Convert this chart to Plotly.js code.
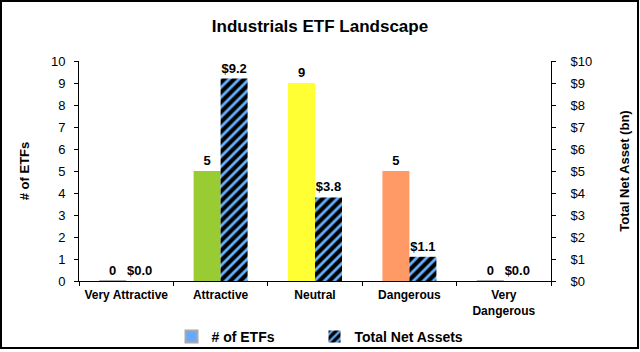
<!DOCTYPE html>
<html>
<head>
<meta charset="utf-8">
<script src="https://cdn.plot.ly/plotly-3.0.1.min.js"></script>
<style>
html,body{margin:0;padding:0;background:#fff;}
#wrap{position:relative;width:640px;height:352px;}
#chart{position:absolute;left:0;top:0;width:640px;height:352px;}
#frame{position:absolute;left:0;top:0;width:639px;height:349px;border:2px solid #000;box-sizing:border-box;pointer-events:none;}
</style>
</head>
<body>
<div id="wrap"><div id="chart"></div><div id="frame"></div></div>
<script>
const categories = ['Very Attractive', 'Attractive', 'Neutral', 'Dangerous', 'Very<br>Dangerous'];
const numEtfs = [0, 5, 9, 5, 0];
const totalNetAssets = [0.0, 9.2, 3.8, 1.1, 0.0];
const etfColors = ['#66aaff', '#99cc33', '#ffff33', '#ff9966', '#66aaff'];
const leftTicks = [0,1,2,3,4,5,6,7,8,9,10];
const rightTickLabels = ['$0','$1','$2','$3','$4','$5','$6','$7','$8','$9','$10'];
const seriesNames = ['# of ETFs', 'Total Net Assets'];

const F = 'Liberation Sans, Arial, sans-serif';
const pad = '\u00a0'.repeat(9);

const traces = [
  {
    type: 'bar', name: seriesNames[0] + pad, x: categories, y: numEtfs,
    xaxis: 'x', yaxis: 'y',
    width: 0.286, offset: -0.286,
    marker: {
      color: etfColors,
      line: {color: '#aaaaaa', width: numEtfs.map(v => v === 0 ? 2 : 0)}
    },
    text: numEtfs.map(v => String(v)),
    textposition: 'outside', cliponaxis: false,
    textfont: {family: F, size: 13, color: '#000', weight: 'bold'},
    hoverinfo: 'skip'
  },
  {
    type: 'bar', name: seriesNames[1], x: categories, y: totalNetAssets,
    xaxis: 'x', yaxis: 'y2',
    width: 0.286, offset: 0,
    marker: {
      color: '#000000',
      pattern: {shape: '/', bgcolor: '#000000', fgcolor: '#66b3ff', size: 7, solidity: 0.4},
      line: {width: 0}
    },
    text: totalNetAssets.map(v => '$' + v.toFixed(1)),
    textposition: 'outside', cliponaxis: false,
    textfont: {family: F, size: 13, color: '#000', weight: 'bold'},
    hoverinfo: 'skip'
  }
];

const layout = {
  width: 640, height: 352,
  margin: {l: 79, r: 89, t: 61, b: 71, autoexpand: false},
  paper_bgcolor: '#fff', plot_bgcolor: '#fff',
  font: {family: F, color: '#000'},
  title: {text: '<b>Industrials ETF Landscape</b>', font: {family: F, size: 17, color: '#000'}, x: 0.5, xanchor: 'center', y: 0.925, yanchor: 'middle'},
  showlegend: true,
  legend: {orientation: 'h', x: 0.5, xref: 'container', xanchor: 'center', y: 0.043, yref: 'container', yanchor: 'middle',
           font: {family: F, size: 14, color: '#000', weight: 'bold'}, itemwidth: 30, traceorder: 'normal'},
  bargap: 0.43,
  xaxis: {
    type: 'category', showline: true, linecolor: '#000', linewidth: 1, automargin: false,
    ticks: 'outside', tickson: 'boundaries', ticklen: 4, tickcolor: '#000', ticklabelstandoff: 3,
    tickfont: {family: F, size: 12, color: '#000', weight: 'bold'},
    showgrid: false, zeroline: false, fixedrange: true
  },
  yaxis: {
    range: [0, 10], tickvals: leftTicks, ticks: 'outside', ticklen: 4, tickcolor: '#000', automargin: false,
    showline: true, linecolor: '#000', linewidth: 1, showgrid: false, zeroline: false,
    tickfont: {family: F, size: 13, color: '#000'}, ticklabelstandoff: 6,
    title: {text: '<b># of ETFs</b>', font: {family: F, size: 13, color: '#000'}, standoff: 18}
  },
  yaxis2: {
    overlaying: 'y', side: 'right', range: [0, 10], tickvals: leftTicks, ticktext: rightTickLabels,
    ticks: 'outside', ticklen: 4, tickcolor: '#000', automargin: false,
    showline: true, linecolor: '#000', linewidth: 1, showgrid: false, zeroline: false,
    tickfont: {family: F, size: 13, color: '#000'}, ticklabelstandoff: 12,
    title: {text: '<b>Total Net Asset (bn)</b>', font: {family: F, size: 13, color: '#000'}, standoff: 28}
  }
};

Plotly.newPlot('chart', traces, layout, {displayModeBar: false, staticPlot: true});
</script>
</body>
</html>
